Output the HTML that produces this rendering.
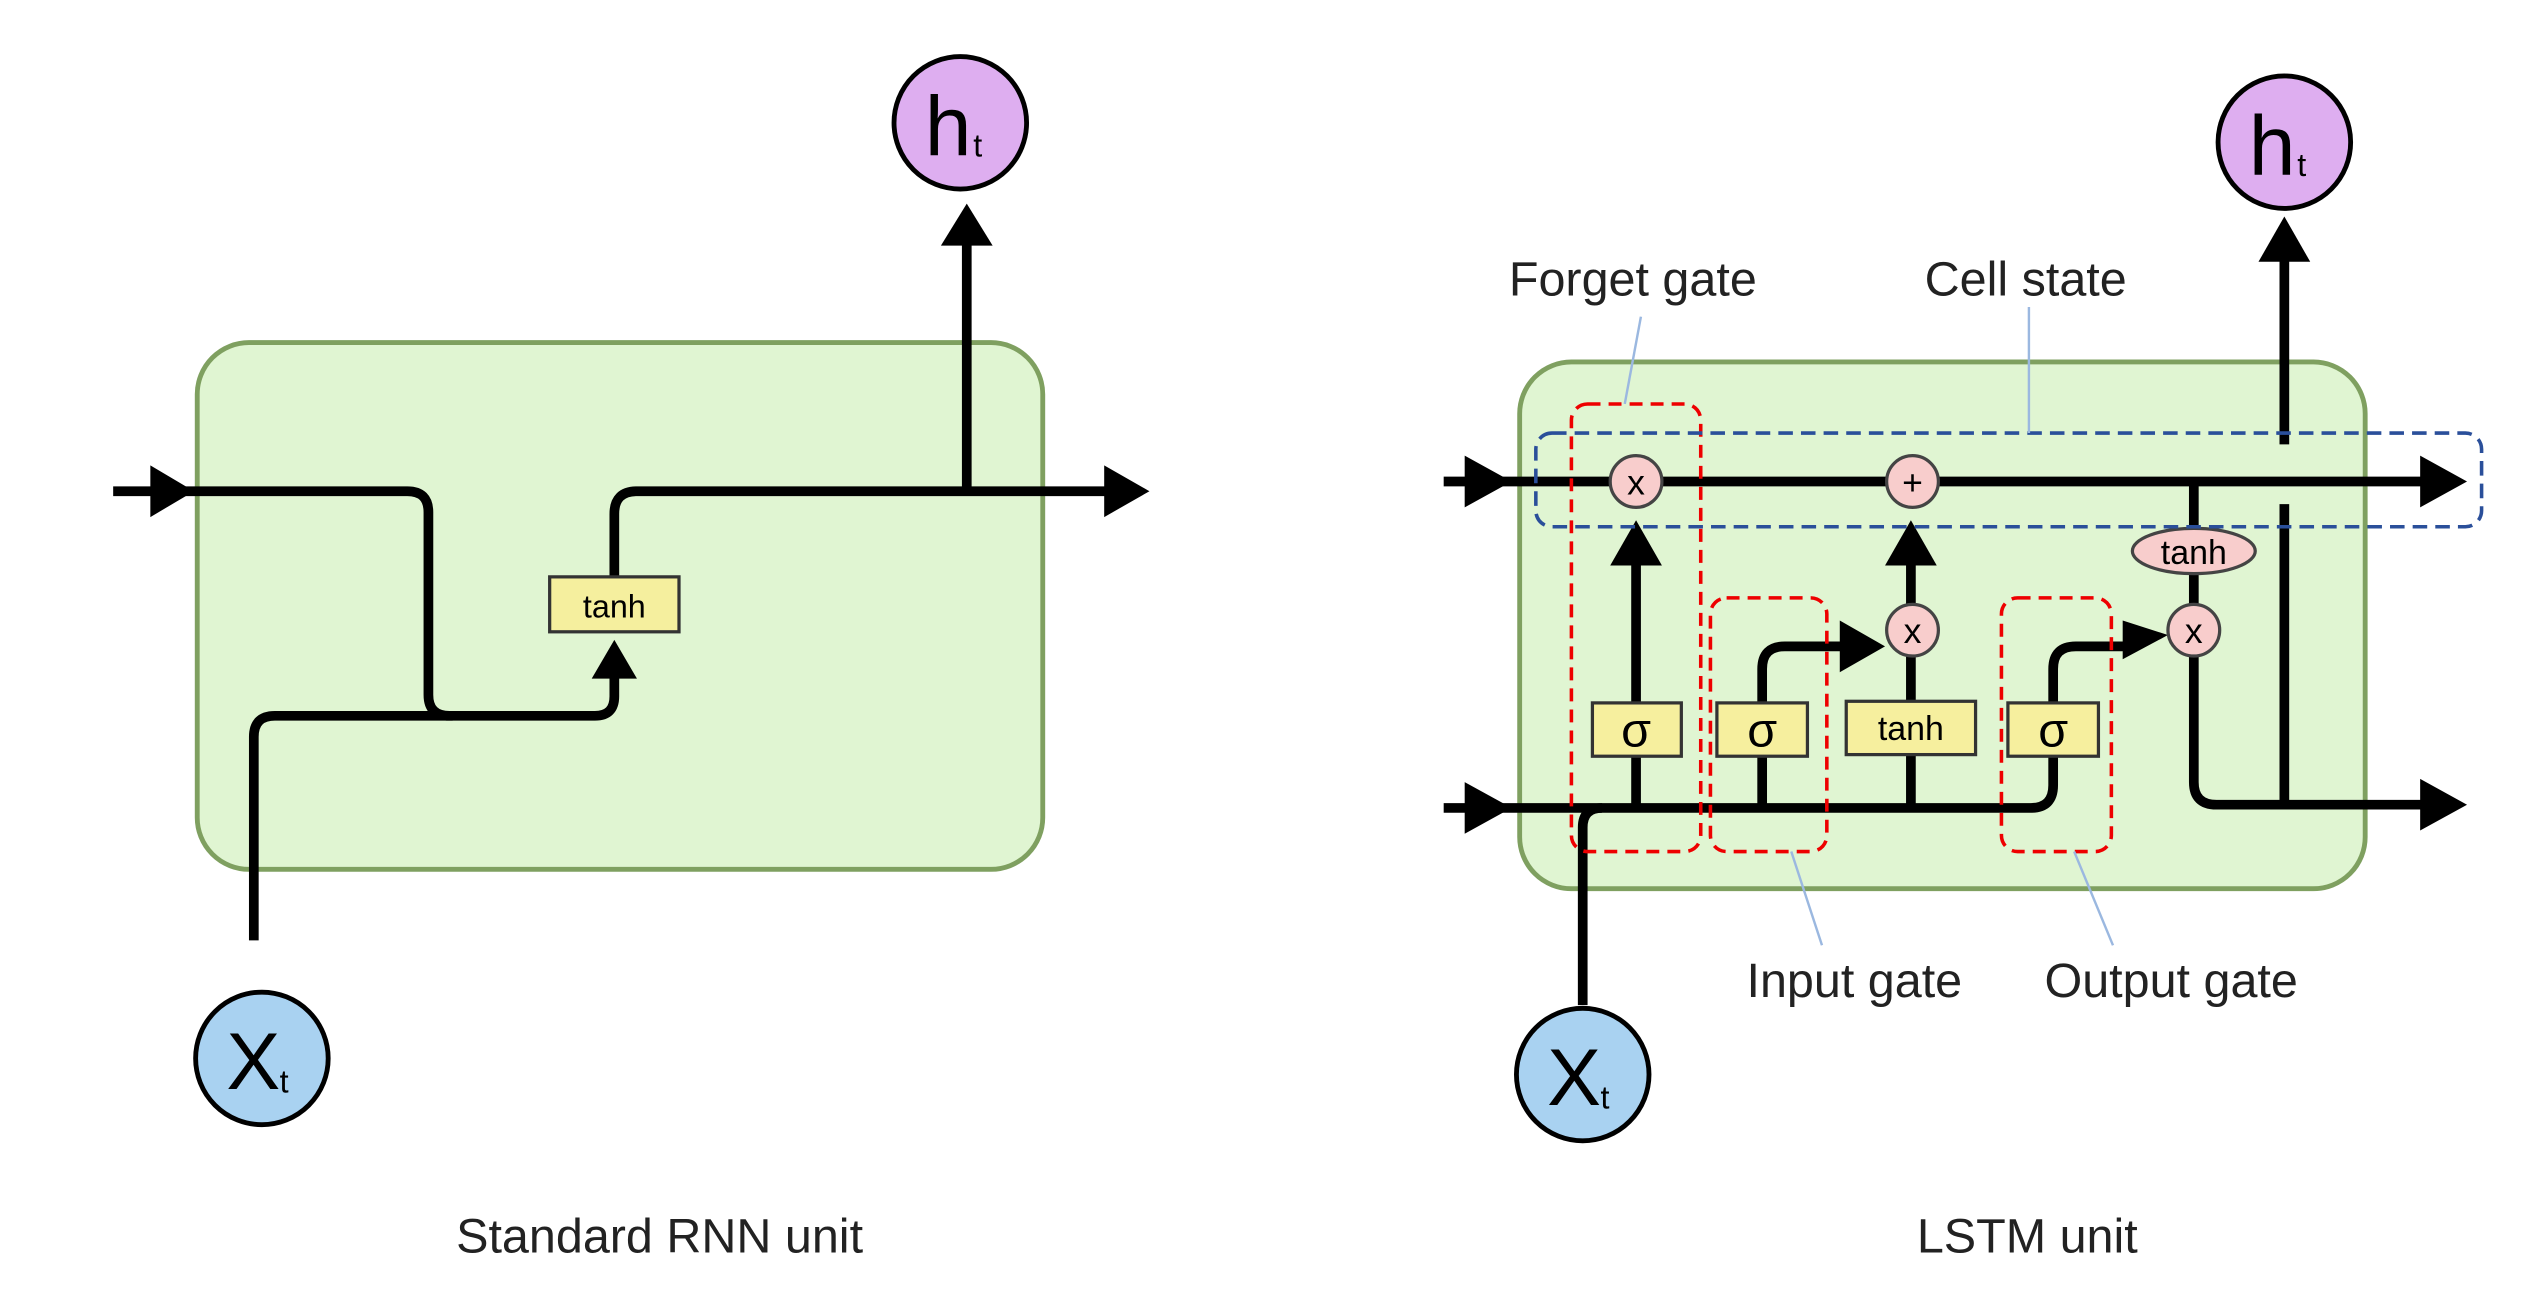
<!DOCTYPE html>
<html><head><meta charset="utf-8"><style>html,body{margin:0;padding:0;background:#fff}svg{display:block}</style></head>
<body>
<svg width="2522" height="1304" viewBox="0 0 1560 807" preserveAspectRatio="none" xmlns="http://www.w3.org/2000/svg" font-family="Liberation Sans, sans-serif">
<defs>
<marker id="a" markerWidth="8" markerHeight="8" refX="7" refY="4" orient="auto" markerUnits="userSpaceOnUse" viewBox="0 0 8 8"></marker>
</defs>
<rect width="1560" height="807" fill="#fff"/>
<!-- RNN -->
<rect x="122" y="212" width="523" height="326" rx="32" fill="#e0f5d2" stroke="#7fa060" stroke-width="3"/>
<g fill="none" stroke="#000" stroke-width="6" stroke-linejoin="round">
<path d="M70 304 H252 Q265 304 265 317 V430 Q265 443 278 443 H368 Q380 443 380 431 V415"/>
<path d="M157 582 V456 Q157 443 170 443 H280"/>
<path d="M380 357 V318 Q380 304 394 304 H685"/>
<path d="M598 304 V150"/>
</g>
<g fill="#000">
<polygon points="93,288 120,304 93,320"/>
<polygon points="683,288 711,304 683,320"/>
<polygon points="582,152 598,126 614,152"/>
<polygon points="366,420 380,396 394,420"/>
</g>
<rect x="340" y="357" width="80" height="34" fill="#f5ef9e" stroke="#333" stroke-width="2"/>
<text x="380" y="382" font-size="20" text-anchor="middle">tanh</text>
<circle cx="594" cy="76" r="41" fill="#deaef0" stroke="#000" stroke-width="3"/>
<text x="572" y="96" font-size="52">h</text><text x="602" y="97" font-size="20">t</text>
<circle cx="162" cy="655" r="41" fill="#a9d2f1" stroke="#000" stroke-width="3"/>
<text x="140" y="674" font-size="50">X</text><text x="173" y="676" font-size="20">t</text>
<text x="408" y="775" font-size="30" text-anchor="middle" fill="#222">Standard RNN unit</text>

<!-- LSTM -->
<rect x="940" y="224" width="523" height="326" rx="32" fill="#e0f5d2" stroke="#7fa060" stroke-width="3"/>
<g fill="none" stroke="#000" stroke-width="6" stroke-linejoin="round">
<path d="M893 298 H1500"/>
<path d="M893 500 H1256 Q1270 500 1270 486 V468"/>
<path d="M979 622 V512 Q979 500 991 500"/>
<path d="M1012 500 V345"/>
<path d="M1090 500 V435 M1090 435 V414 Q1090 400 1104 400 H1140"/>
<path d="M1182 500 V405 M1182 375 V345"/>
<path d="M1270 435 V414 Q1270 400 1284 400 H1318"/>
<path d="M1357 298 V327 M1357 355 V375 M1357 405 V484 Q1357 498 1371 498 H1500"/>
<path d="M1413 498 V312 M1413 275 V160"/>
</g>
<g fill="#000">
<polygon points="906,282 935,298 906,314"/>
<polygon points="906,484 935,500 906,516"/>
<polygon points="1497,282 1526,298 1497,314"/>
<polygon points="1497,482 1526,498 1497,514"/>
<polygon points="996,350 1012,322 1028,350"/>
<polygon points="1166,350 1182,322 1198,350"/>
<polygon points="1138,384 1166,400 1138,416"/>
<polygon points="1313,384 1341,393 1313,408"/>
<polygon points="1397,162 1413,134 1429,162"/>
</g>
<g fill="#f6ef9e" stroke="#333" stroke-width="2">
<rect x="985" y="435" width="55" height="33"/>
<rect x="1062" y="435" width="56" height="33"/>
<rect x="1142" y="434" width="80" height="33"/>
<rect x="1242" y="435" width="56" height="33"/>
</g>
<g font-size="30" text-anchor="middle"><text x="1012" y="462">σ</text><text x="1090" y="462">σ</text><text x="1270" y="462">σ</text></g>
<text x="1182" y="458" font-size="21" text-anchor="middle">tanh</text>
<g fill="#f8cdcc" stroke="#444" stroke-width="2">
<circle cx="1012" cy="298" r="16"/><circle cx="1183" cy="298" r="16"/>
<circle cx="1183" cy="390" r="16"/><circle cx="1357" cy="390" r="16"/>
<ellipse cx="1357" cy="341" rx="38" ry="14"/>
</g>
<g font-size="22" text-anchor="middle">
<text x="1012" y="306">x</text><text x="1183" y="306">+</text><text x="1183" y="398">x</text><text x="1357" y="398">x</text>
<text x="1357" y="349" font-size="21">tanh</text></g>
<g fill="none" stroke="#e00" stroke-width="2.2" stroke-dasharray="8,5">
<rect x="972" y="250" width="80" height="277" rx="10"/>
<rect x="1058" y="370" width="72" height="157" rx="10"/>
<rect x="1238" y="370" width="68" height="157" rx="10"/>
</g>
<rect x="950" y="268" width="585" height="58" rx="10" fill="none" stroke="#2a4f9a" stroke-width="2.2" stroke-dasharray="9,5"/>
<g stroke="#9bb8e0" stroke-width="1.5">
<line x1="1015" y1="196" x2="1005" y2="250"/>
<line x1="1255" y1="190" x2="1255" y2="268"/>
<line x1="1108" y1="527" x2="1127" y2="585"/>
<line x1="1283" y1="527" x2="1307" y2="585"/>
</g>
<circle cx="1413" cy="88" r="41" fill="#deaef0" stroke="#000" stroke-width="3"/>
<text x="1391" y="108" font-size="52">h</text><text x="1421" y="109" font-size="20">t</text>
<circle cx="979" cy="665" r="41" fill="#a9d2f1" stroke="#000" stroke-width="3"/>
<text x="957" y="684" font-size="50">X</text><text x="990" y="686" font-size="20">t</text>
<g font-size="30" text-anchor="middle" fill="#222">
<text x="1010" y="183">Forget gate</text>
<text x="1253" y="183">Cell state</text>
<text x="1147" y="617">Input gate</text>
<text x="1343" y="617">Output gate</text>
<text x="1254" y="775">LSTM unit</text>
</g>
</svg>
</body></html>
